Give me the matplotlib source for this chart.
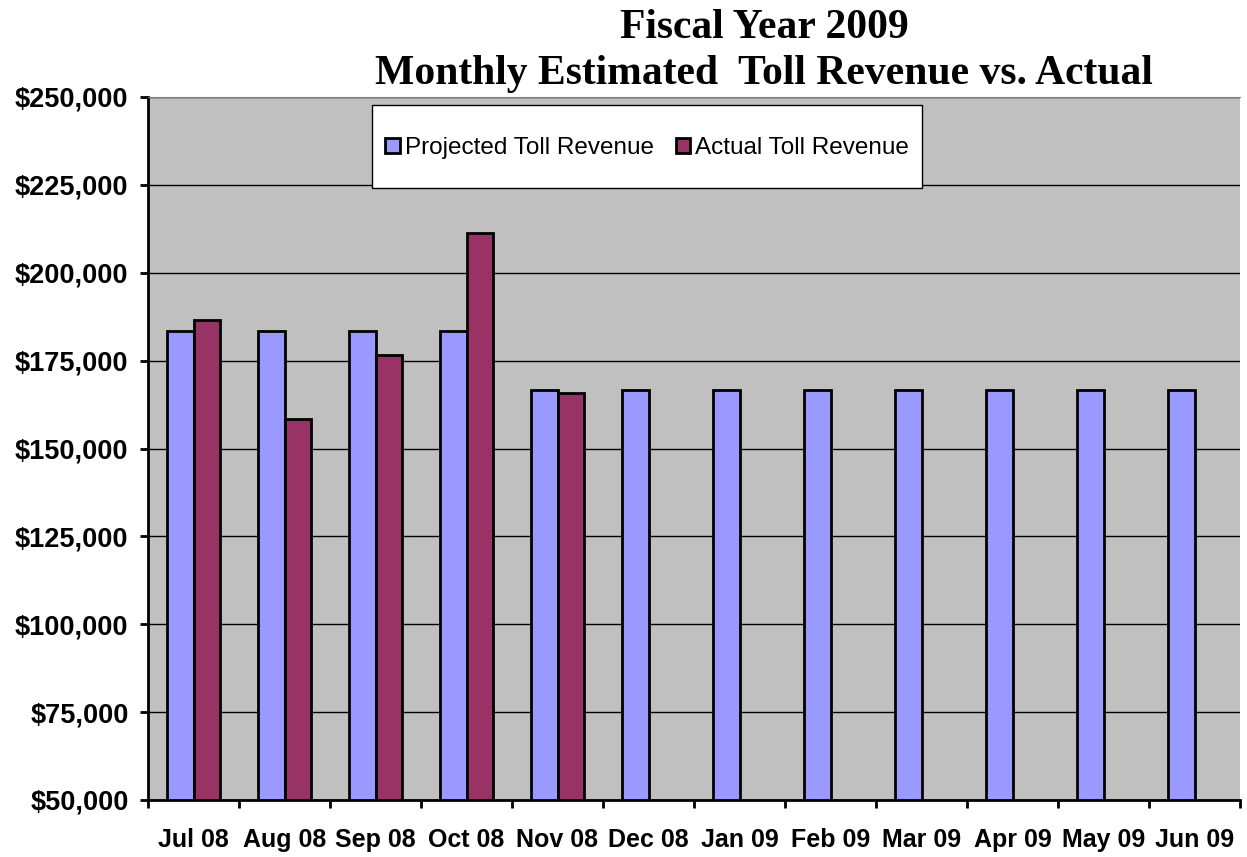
import matplotlib.pyplot as plt
import numpy as np
from matplotlib.ticker import FuncFormatter
from matplotlib.patches import Rectangle

months = ['Jul 08', 'Aug 08', 'Sep 08', 'Oct 08', 'Nov 08', 'Dec 08',
          'Jan 09', 'Feb 09', 'Mar 09', 'Apr 09', 'May 09', 'Jun 09']
projected = [183333, 183333, 183333, 183333, 166667, 166667,
             166667, 166667, 166667, 166667, 166667, 166667]
actual = [186500, 158400, 176600, 211300, 165800]

W, H = 1247, 857
fig = plt.figure(figsize=(W / 100, H / 100), dpi=100)
ax = fig.add_axes([148 / W, 1 - 800 / H, 1092 / W, 703 / H])
ax.set_facecolor('#C0C0C0')

x = np.arange(len(months))
w = 0.29
ax.bar(x - w / 2, np.array(projected) - 50000, w, bottom=50000, color='#9999FF',
       edgecolor='black', linewidth=2, label='Projected Toll Revenue', zorder=3)
ax.bar(x[:len(actual)] + w / 2, np.array(actual) - 50000, w, bottom=50000,
       color='#993366', edgecolor='black', linewidth=2,
       label='Actual Toll Revenue', zorder=3)

ax.set_xlim(-0.5, len(months) - 0.5)
ax.set_ylim(50000, 250000)
ax.set_yticks(range(50000, 250001, 25000))
ax.yaxis.set_major_formatter(FuncFormatter(lambda v, p: '${:,.0f}'.format(v)))
ax.grid(axis='y', color='black', linewidth=1, zorder=1)

ax.set_xticks(x)
ax.set_xticklabels(months)
ax.set_xticks(np.arange(-0.5, len(months)), minor=True)
ax.tick_params(axis='x', which='major', length=0, pad=20)
ax.tick_params(axis='x', which='minor', length=6, width=2, direction='out')
ax.tick_params(axis='y', length=6, width=2, pad=8)
for lab in ax.get_xticklabels():
    lab.set_fontfamily('Liberation Sans')
    lab.set_fontweight('bold')
    lab.set_fontsize(18)
for lab in ax.get_yticklabels():
    lab.set_fontfamily('Liberation Sans')
    lab.set_fontweight('bold')
    lab.set_fontsize(19.5)

ax.spines['right'].set_visible(False)
ax.spines['top'].set_color('#808080')
ax.spines['left'].set_linewidth(2)
ax.spines['bottom'].set_linewidth(2)

fig.text(0.613, 0.990, 'Fiscal Year 2009\nMonthly Estimated  Toll Revenue vs. Actual',
         ha='center', va='top', fontsize=30, fontweight='bold',
         family='Liberation Serif', linespacing=1.3)

# legend box drawn by hand so its padding matches
ax.add_patch(Rectangle((372 / W, 1 - 188 / H), 550 / W, 83 / H,
                       transform=fig.transFigure, facecolor='white',
                       edgecolor='black', linewidth=1, zorder=5, clip_on=False))
leg = ax.legend(loc='center', bbox_to_anchor=(647 / W, 1 - 148 / H),
                bbox_transform=fig.transFigure, ncol=2, frameon=False,
                prop={'family': 'Liberation Sans', 'size': 17.5},
                handlelength=0.6, handleheight=0.6, handletextpad=0.2,
                columnspacing=0.9, borderaxespad=0)
leg.set_zorder(10)

fig.savefig('out.png', dpi=100)
